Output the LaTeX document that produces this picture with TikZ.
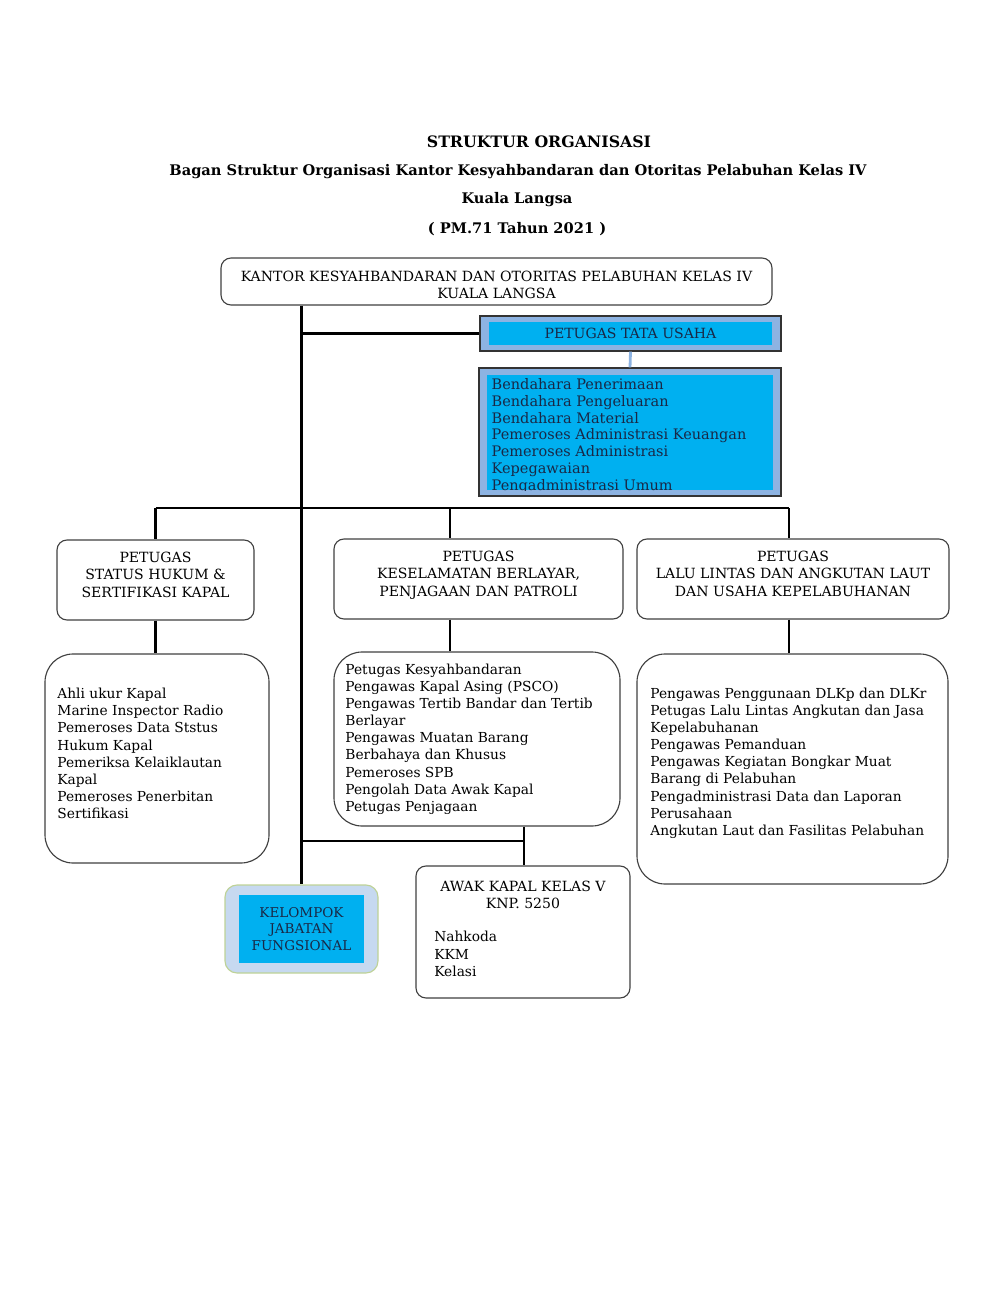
\documentclass[tikz,border=0pt]{standalone}
\usepackage{fontspec}
\setmainfont{DejaVu Serif}

\definecolor{tucyan}{RGB}{0,176,240}
\definecolor{tuouter}{RGB}{141,179,226}
\definecolor{kfouter}{RGB}{198,217,240}
\definecolor{kfborder}{RGB}{190,210,150}
\definecolor{tuink}{RGB}{25,40,70}

\newdimen\px \px=0.025cm

\begin{document}
\begin{tikzpicture}[x=0.025cm,y=-0.025cm,
    box/.style={draw=black!75,line width=0.8pt,rounded corners=0.25cm,fill=white},
    bigbox/.style={box,rounded corners=0.7cm},
    head/.style={align=center,font=\fontsize{10}{12.2}\selectfont},
    list/.style={align=left,anchor=west,font=\fontsize{9.8}{12.2}\selectfont},
    titel/.style={font=\bfseries\fontsize{10.4}{14}\selectfont},
    conn/.style={line width=2pt}]
    \useasboundingbox (0,0) rectangle (1000,1294);
	% judul
	\node[titel,font=\bfseries\fontsize{11.2}{14}\selectfont] (title) at (539,142) {STRUKTUR ORGANISASI};
	\node[titel] (sub1) at (518,172) {Bagan Struktur Organisasi Kantor Kesyahbandaran dan Otoritas Pelabuhan Kelas IV};
	\node[titel] (sub2) at (517,200) {Kuala Langsa};
	\node[titel] (sub3) at (517,229) {( PM.71 Tahun 2021 )};
	% kantor
	\node[box,minimum width=551\px,minimum height=47\px] (kantor) at (496.5,281.5) {};
	\node[head] (kantortext) at ([yshift=-3\px]kantor.center) {KANTOR KESYAHBANDARAN DAN OTORITAS PELABUHAN KELAS IV\\KUALA LANGSA};
	% tata usaha
	\node[draw=black!80,fill=tuouter,line width=0.8pt,minimum width=301\px,minimum height=35\px] (tu) at (630.5,333.5) {};
	\node[fill=tucyan,minimum width=283\px,minimum height=23\px,head,text=tuink] (tuname) at (tu) {PETUGAS TATA USAHA};
	\node[draw=black!80,fill=tuouter,line width=0.8pt,minimum width=302\px,minimum height=128\px] (tulist) at (630,432) {};
	\node[fill=tucyan,minimum width=286\px,minimum height=115\px] (tuinner) at (630,432.5) {};
	\begin{scope}
	\clip (tuinner.south west) rectangle (tuinner.north east);
	\node[list,anchor=north west,text=tuink,font=\fontsize{10.3}{11.9}\selectfont] (tutext) at ([yshift=1\px]tuinner.north west) {Bendahara Penerimaan\\Bendahara Pengeluaran\\Bendahara Material\\Pemeroses Administrasi Keuangan\\Pemeroses Administrasi\\Kepegawaian\\Pengadministrasi Umum};
	\end{scope}
	% petugas
	\node[box,minimum width=197\px,minimum height=80\px,head,text depth=7.5pt] (st) at (155.5,580) {PETUGAS\\STATUS HUKUM \&\\SERTIFIKASI KAPAL};
	\node[box,minimum width=289\px,minimum height=80\px,head,text depth=7.5pt] (kp) at (478.5,579) {PETUGAS\\KESELAMATAN BERLAYAR,\\PENJAGAAN DAN PATROLI};
	\node[box,minimum width=312\px,minimum height=80\px,head,text depth=7.5pt] (ll) at (793,579) {PETUGAS\\LALU LINTAS DAN ANGKUTAN LAUT\\DAN USAHA KEPELABUHANAN};
	\node[bigbox,minimum width=224\px,minimum height=209\px] (stlist) at (157,758.5) {};
	\node[list] (sttext) at ([xshift=8\px,yshift=5\px]stlist.west) {Ahli ukur Kapal\\Marine Inspector Radio\\Pemeroses Data Ststus\\Hukum Kapal\\Pemeriksa Kelaiklautan\\Kapal\\Pemeroses Penerbitan\\Sertifikasi};
	\node[bigbox,minimum width=286\px,minimum height=174\px] (kplist) at (477,739) {};
	\node[list] (kptext) at ([xshift=7\px]kplist.west) {Petugas Kesyahbandaran\\Pengawas Kapal Asing (PSCO)\\Pengawas Tertib Bandar dan Tertib\\Berlayar\\Pengawas Muatan Barang\\Berbahaya dan Khusus\\Pemeroses SPB\\Pengolah Data Awak Kapal\\Petugas Penjagaan};
	\node[bigbox,minimum width=311\px,minimum height=230\px] (lllist) at (792.5,769) {};
	\node[list] (lltext) at ([xshift=9\px,yshift=6\px]lllist.west) {Pengawas Penggunaan DLKp dan DLKr\\Petugas Lalu Lintas Angkutan dan Jasa\\Kepelabuhanan\\Pengawas Pemanduan\\Pengawas Kegiatan Bongkar Muat\\Barang di Pelabuhan\\Pengadministrasi Data dan Laporan\\Perusahaan\\Angkutan Laut dan Fasilitas Pelabuhan};
	% fungsional dan awak kapal
	\node[draw=kfborder,fill=kfouter,line width=0.8pt,rounded corners=0.3cm,minimum width=153\px,minimum height=88\px] (kf) at (301.5,929) {};
	\node[fill=tucyan,minimum width=125\px,minimum height=68\px,head,text=tuink,font=\fontsize{9.6}{12}\selectfont] (kfname) at (kf) {KELOMPOK\\JABATAN\\FUNGSIONAL};
	\node[box,minimum width=214\px,minimum height=132\px] (awak) at (523,932) {};
	\node[head] (awakhead) at (523,894.5) {AWAK KAPAL KELAS V\\KNP. 5250};
	\node[list] (awaktext) at (429.3,954) {Nahkoda\\KKM\\Kelasi};
	% garis
	\coordinate (bus) at (155,508);
	\coordinate (kpdrop) at (450,508);
	\coordinate (lldrop) at (789,508);
	\coordinate (awakbus) at (524,841);
	\draw[conn] (kf.north |- kantor.south) -- (kf.north);
	\draw[conn] (kf.north |- tu.west) -- (tu.west);
	\draw[tuouter,line width=2pt] (tu.south) -- (tulist.north);
	\draw[conn] (st.north |- bus) -- (lldrop);
	\draw[conn] (st.north |- bus) -- (st.north);
	\draw[conn] (kpdrop) -- (kpdrop |- kp.north);
	\draw[conn] (lldrop) -- (lldrop |- ll.north);
	\draw[conn] (st.south) -- (st.south |- stlist.north);
	\draw[conn] (kpdrop |- kp.south) -- (kpdrop |- kplist.north);
	\draw[conn] (lldrop |- ll.south) -- (lldrop |- lllist.north);
	\draw[conn] (awakbus |- kplist.south) -- (awakbus |- awak.north);
	\draw[conn] (kf.north |- awakbus) -- (awakbus);
\end{tikzpicture}
\end{document}
